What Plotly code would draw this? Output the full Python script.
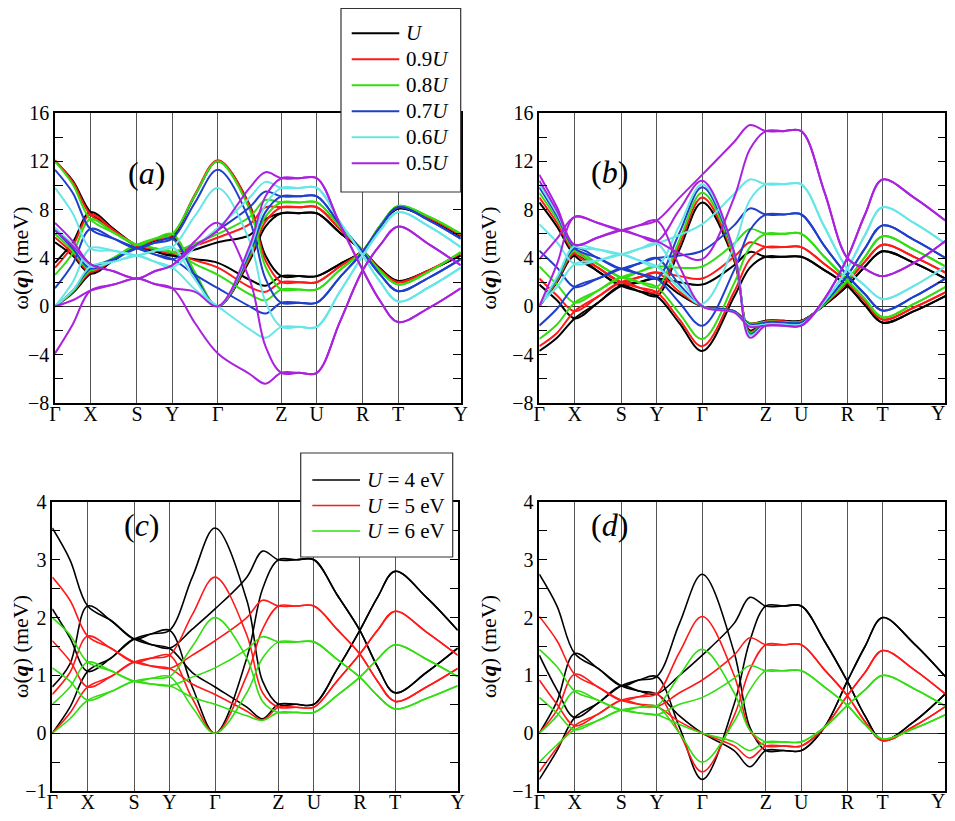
import plotly.graph_objects as go

# the page body adds an 8 px margin on every side; keep the figure inside the window
PAGE_PAD = 8
W, H = 955 - 2 * PAGE_PAD, 821 - 2 * PAGE_PAD
RIGHT_SHIFT = 3   # right-hand panels pulled left so their border stays in the window
BOTTOM_SHIFT = 7  # lower panels lifted so their tick labels stay in the window

# path coordinate: high-symmetry points plus interior sample points
K = [0, 17.7, 35.4, 58.7, 82, 99.7, 117.4, 140.2, 163, 194.8, 210.6,
     226.5, 244.2, 262, 285, 308, 325.7, 343.3, 374.7, 406]
HS_K = [0, 35.4, 82, 117.4, 163, 226.5, 262, 308, 343.3, 406]
HS_LABELS = ["Γ", "X", "S", "Y", "Γ", "Z", "U", "R", "T", "Y"]

# ---- panel (a) ----
A_U = [
    [12.0, 10.4, 7.8, 6.4, 5.0, 5.45, 5.8, 9.2, 12.0, 8.4, 4.2, 2.5, 2.5, 2.5, 3.5, 4.6, 6.6, 8.1, 7.2, 5.8],
    [5.3, 4.2, 2.7, 3.8, 5.0, 4.55, 4.2, 4.7, 5.3, 5.9, 7.2, 7.7, 7.7, 7.7, 6.1, 4.6, 3.1, 2.1, 3.0, 4.2],
    [3.6, 5.3, 7.8, 6.4, 5.0, 4.55, 4.2, 3.9, 3.6, 2.2, 1.7, 2.5, 2.5, 2.5, 3.5, 4.6, 6.6, 8.1, 7.2, 5.8],
    [0.0, 1.1, 2.7, 3.8, 5.0, 5.45, 5.8, 2.6, 0.0, 3.8, 6.6, 7.7, 7.7, 7.7, 6.1, 4.6, 3.1, 2.1, 3.0, 4.2],
]
A_09U = [
    [12.1, 10.3, 7.6, 6.3, 5.05, 5.5, 5.9, 9.3, 12.1, 8.3, 3.8, 2.0, 2.0, 2.0, 3.3, 4.6, 6.7, 8.2, 7.3, 5.9],
    [5.7, 4.4, 2.85, 3.9, 5.05, 4.7, 4.4, 5.0, 5.7, 6.8, 8.2, 8.2, 8.2, 8.2, 6.4, 4.6, 3.0, 2.0, 3.0, 4.4],
    [3.2, 5.0, 7.6, 6.3, 5.05, 4.7, 4.4, 3.8, 3.2, 1.6, 1.2, 2.0, 2.0, 2.0, 3.3, 4.6, 6.7, 8.2, 7.3, 5.9],
    [0.0, 1.2, 2.85, 3.9, 5.05, 5.5, 5.9, 2.7, 0.0, 4.0, 7.0, 8.2, 8.2, 8.2, 6.4, 4.6, 3.0, 2.0, 3.0, 4.4],
]
A_08U = [
    [12.0, 10.1, 7.2, 6.1, 5.1, 5.6, 6.0, 9.2, 12.0, 8.0, 3.3, 1.4, 1.4, 1.4, 3.0, 4.6, 6.7, 8.3, 7.4, 6.0],
    [6.0, 4.6, 3.0, 4.0, 5.1, 4.8, 4.5, 5.2, 6.0, 7.4, 8.8, 8.6, 8.6, 8.6, 6.6, 4.6, 2.9, 1.8, 2.9, 4.5],
    [2.6, 4.4, 7.2, 6.1, 5.1, 4.8, 4.5, 3.5, 2.6, 1.0, 0.5, 1.4, 1.4, 1.4, 3.0, 4.6, 6.7, 8.3, 7.4, 6.0],
    [0.0, 1.2, 3.0, 4.0, 5.1, 5.6, 6.0, 2.8, 0.0, 4.2, 7.4, 8.6, 8.6, 8.6, 6.6, 4.6, 2.9, 1.8, 2.9, 4.5],
]
A_07U = [
    [11.3, 9.4, 6.4, 5.6, 4.8, 5.25, 5.6, 8.6, 11.3, 7.1, 2.3, 0.3, 0.3, 0.3, 2.4, 4.5, 6.6, 8.2, 7.1, 5.6],
    [6.3, 4.8, 3.15, 3.9, 4.8, 4.3, 3.9, 5.0, 6.3, 8.2, 9.5, 9.1, 9.1, 9.1, 6.8, 4.5, 2.6, 1.25, 2.4, 3.9],
    [1.5, 3.5, 6.4, 5.6, 4.8, 4.3, 3.9, 2.6, 1.5, 0.0, -0.6, 0.3, 0.3, 0.3, 2.4, 4.5, 6.6, 8.2, 7.1, 5.6],
    [0.0, 1.3, 3.15, 3.9, 4.8, 5.25, 5.6, 2.5, 0.0, 4.4, 7.8, 9.1, 9.1, 9.1, 6.8, 4.5, 2.6, 1.25, 2.4, 3.9],
]
A_06U = [
    [9.8, 7.7, 4.8, 4.6, 4.2, 4.6, 4.9, 7.5, 9.8, 5.4, 0.4, -1.7, -1.7, -1.7, 1.2, 4.2, 6.3, 7.8, 6.6, 4.9],
    [6.5, 5.1, 3.3, 3.7, 4.2, 3.7, 3.2, 4.9, 6.5, 9.0, 10.3, 9.8, 9.8, 9.8, 7.0, 4.2, 2.0, 0.4, 1.6, 3.2],
    [0.0, 2.0, 4.8, 4.6, 4.2, 3.7, 3.2, 1.4, 0.0, -1.9, -2.6, -1.7, -1.7, -1.7, 1.2, 4.2, 6.3, 7.8, 6.6, 4.9],
    [0.0, 1.3, 3.3, 3.7, 4.2, 4.6, 4.9, 2.2, 0.0, 4.7, 8.4, 9.8, 9.8, 9.8, 7.0, 4.2, 2.0, 0.4, 1.6, 3.2],
]
A_05U = [
    [6.9, 5.4, 3.5, 2.9, 2.3, 2.9, 3.4, 5.4, 6.9, 2.2, -3.3, -5.5, -5.5, -5.5, -1.3, 3.0, 5.1, 6.6, 5.1, 3.4],
    [6.3, 5.0, 3.5, 2.9, 2.3, 2.9, 3.4, 5.0, 6.3, 9.8, 11.1, 10.6, 10.6, 10.6, 6.8, 3.0, 0.4, -1.3, -0.1, 1.5],
    [-3.9, -1.5, 1.3, 1.8, 2.3, 1.85, 1.5, -1.4, -3.9, -5.6, -6.4, -5.5, -5.5, -5.5, -1.3, 3.0, 5.1, 6.6, 5.1, 3.4],
    [0.0, 0.5, 1.3, 1.8, 2.3, 1.85, 1.5, 1.2, 0.0, 5.0, 9.1, 10.6, 10.6, 10.6, 6.8, 3.0, 0.4, -1.3, -0.1, 1.5],
]

# ---- panel (b) ----
B_U = [
    [8.6, 6.6, 4.2, 2.9, 1.7, 1.25, 0.85, 4.7, 8.6, 3.8, -2.0, -1.2, -1.2, -1.2, 0.1, 1.7, 3.3, 4.55, 3.6, 2.3],
    [1.8, 0.5, -1.0, 0.3, 1.7, 2.0, 2.3, 2.0, 1.8, 3.4, 4.5, 4.1, 4.1, 4.1, 3.0, 1.7, 0.1, -1.35, -0.4, 0.85],
    [0.0, 2.0, 4.2, 2.9, 1.7, 2.0, 2.3, 1.0, 0.0, -0.4, -1.4, -1.2, -1.2, -1.2, 0.1, 1.7, 3.3, 4.55, 3.6, 2.3],
    [-3.7, -2.6, -1.0, 0.3, 1.7, 1.25, 0.85, -1.4, -3.7, 0.8, 3.2, 4.1, 4.1, 4.1, 3.0, 1.7, 0.1, -1.35, -0.4, 0.85],
]
B_09U = [
    [9.0, 6.9, 4.4, 3.2, 2.0, 1.55, 1.15, 5.1, 9.0, 4.0, -2.1, -1.25, -1.25, -1.25, 0.15, 2.0, 3.7, 5.1, 4.1, 2.8],
    [2.3, 0.9, -0.4, 0.8, 2.0, 2.4, 2.8, 2.5, 2.3, 4.1, 5.3, 4.9, 4.9, 4.9, 3.5, 2.0, 0.4, -1.1, -0.1, 1.15],
    [0.0, 2.1, 4.4, 3.2, 2.0, 2.4, 2.8, 1.2, 0.0, -0.4, -1.4, -1.25, -1.25, -1.25, 0.15, 2.0, 3.7, 5.1, 4.1, 2.8],
    [-3.3, -2.2, -0.4, 0.8, 2.0, 1.55, 1.15, -1.1, -3.3, 1.2, 3.9, 4.9, 4.9, 4.9, 3.5, 2.0, 0.4, -1.1, -0.1, 1.15],
]
B_08U = [
    [9.4, 7.2, 4.6, 3.5, 2.4, 2.0, 1.6, 5.5, 9.4, 4.2, -2.2, -1.3, -1.3, -1.3, 0.2, 2.15, 4.1, 5.8, 4.7, 3.3],
    [3.3, 1.8, 0.3, 1.3, 2.4, 2.85, 3.3, 3.2, 3.3, 5.2, 6.4, 6.0, 6.0, 6.0, 4.1, 2.15, 0.6, -0.9, 0.2, 1.6],
    [0.0, 2.2, 4.6, 3.5, 2.4, 2.85, 3.3, 1.5, 0.0, -0.4, -1.4, -1.3, -1.3, -1.3, 0.2, 2.15, 4.1, 5.8, 4.7, 3.3],
    [-2.7, -1.5, 0.3, 1.3, 2.4, 2.0, 1.6, -0.6, -2.7, 1.9, 4.9, 6.0, 6.0, 6.0, 4.1, 2.15, 0.6, -0.9, 0.2, 1.6],
]
B_07U = [
    [9.85, 7.5, 4.8, 4.0, 3.1, 2.7, 2.3, 6.1, 9.85, 4.4, -2.3, -1.35, -1.35, -1.35, 0.3, 2.55, 4.8, 6.7, 5.5, 4.0],
    [4.6, 3.2, 1.6, 2.3, 3.1, 3.55, 4.0, 4.2, 4.6, 6.7, 8.1, 7.6, 7.6, 7.6, 5.0, 2.55, 1.0, -0.35, 0.8, 2.3],
    [0.0, 2.3, 4.8, 4.0, 3.1, 3.55, 4.0, 1.8, 0.0, -0.4, -1.5, -1.35, -1.35, -1.35, 0.3, 2.55, 4.8, 6.7, 5.5, 4.0],
    [-1.6, -0.2, 1.6, 2.3, 3.1, 2.7, 2.3, 0.3, -1.6, 3.0, 6.3, 7.6, 7.6, 7.6, 5.0, 2.55, 1.0, -0.35, 0.8, 2.3],
]
B_06U = [
    [10.1, 7.7, 5.0, 4.7, 4.3, 3.8, 3.3, 6.7, 10.1, 4.5, -2.4, -1.5, -1.5, -1.5, 0.4, 3.1, 5.9, 8.2, 6.9, 5.2],
    [6.8, 5.3, 3.5, 3.8, 4.3, 4.75, 5.2, 5.9, 6.8, 9.3, 10.5, 10.1, 10.1, 10.1, 6.6, 3.1, 1.7, 0.6, 1.7, 3.3],
    [0.0, 2.4, 5.0, 4.7, 4.3, 4.75, 5.2, 2.4, 0.0, -0.5, -1.6, -1.5, -1.5, -1.5, 0.4, 3.1, 5.9, 8.2, 6.9, 5.2],
    [0.2, 1.6, 3.5, 3.8, 4.3, 3.8, 3.3, 1.5, 0.2, 5.0, 8.8, 10.1, 10.1, 10.1, 6.6, 3.1, 1.7, 0.6, 1.7, 3.3],
]
B_05U = [
    [10.9, 8.2, 5.1, 5.7, 6.3, 6.7, 7.1, 9.0, 10.9, 13.6, 15.0, 14.5, 14.5, 14.5, 9.5, 4.0, 3.1, 2.5, 3.6, 5.4],
    [10.4, 7.9, 5.1, 5.7, 6.3, 5.85, 5.4, 8.0, 10.4, 4.5, -2.6, -1.6, -1.6, -1.6, 0.6, 4.0, 7.6, 10.5, 9.0, 7.1],
    [0.0, 3.5, 7.4, 6.9, 6.3, 6.7, 7.1, 3.3, 0.0, -0.5, -1.7, -1.6, -1.6, -1.6, 0.6, 4.0, 7.6, 10.5, 9.0, 7.1],
    [3.9, 5.6, 7.4, 6.9, 6.3, 5.85, 5.4, 4.4, 3.9, 9.0, 13.0, 14.5, 14.5, 14.5, 9.5, 4.0, 3.1, 2.5, 3.6, 5.4],
]

# ---- panel (c) ----
C_4EV = [
    [3.55, 3.0, 2.2, 1.95, 1.63, 1.72, 1.78, 2.7, 3.55, 2.3, 0.9, 0.5, 0.5, 0.5, 1.1, 1.78, 2.35, 2.8, 2.35, 1.78],
    [2.15, 1.65, 1.07, 1.3, 1.63, 1.53, 1.47, 1.8, 2.15, 2.7, 3.15, 3.0, 3.0, 3.0, 2.4, 1.78, 1.15, 0.7, 1.05, 1.47],
    [0.8, 1.2, 2.2, 1.95, 1.63, 1.53, 1.47, 1.05, 0.8, 0.45, 0.25, 0.5, 0.5, 0.5, 1.1, 1.78, 2.35, 2.8, 2.35, 1.78],
    [0.0, 0.45, 1.07, 1.3, 1.63, 1.72, 1.78, 0.8, 0.0, 1.3, 2.5, 3.0, 3.0, 3.0, 2.4, 1.78, 1.15, 0.7, 1.05, 1.47],
]
C_5EV = [
    [2.7, 2.3, 1.68, 1.47, 1.23, 1.3, 1.35, 2.05, 2.7, 1.7, 0.7, 0.45, 0.45, 0.45, 0.9, 1.37, 1.78, 2.11, 1.75, 1.35],
    [1.6, 1.25, 0.8, 0.98, 1.23, 1.16, 1.12, 1.35, 1.6, 2.0, 2.3, 2.2, 2.2, 2.2, 1.8, 1.37, 0.9, 0.55, 0.8, 1.12],
    [0.67, 1.05, 1.68, 1.47, 1.23, 1.16, 1.12, 0.85, 0.67, 0.38, 0.23, 0.45, 0.45, 0.45, 0.9, 1.37, 1.78, 2.11, 1.75, 1.35],
    [0.0, 0.35, 0.8, 0.98, 1.23, 1.3, 1.35, 0.6, 0.0, 1.0, 1.8, 2.2, 2.2, 2.2, 1.8, 1.37, 0.9, 0.55, 0.8, 1.12],
]
C_6EV = [
    [2.0, 1.7, 1.23, 1.08, 0.9, 0.95, 0.98, 1.5, 2.0, 1.3, 0.55, 0.36, 0.36, 0.36, 0.65, 0.97, 1.28, 1.53, 1.28, 0.98],
    [1.13, 0.9, 0.57, 0.72, 0.9, 0.85, 0.82, 0.97, 1.13, 1.45, 1.67, 1.58, 1.58, 1.58, 1.28, 0.97, 0.65, 0.42, 0.6, 0.82],
    [0.5, 0.8, 1.23, 1.08, 0.9, 0.85, 0.82, 0.62, 0.5, 0.3, 0.22, 0.36, 0.36, 0.36, 0.65, 0.97, 1.28, 1.53, 1.28, 0.98],
    [0.0, 0.25, 0.57, 0.72, 0.9, 0.95, 0.98, 0.45, 0.0, 0.7, 1.3, 1.58, 1.58, 1.58, 1.28, 0.97, 0.65, 0.42, 0.6, 0.82],
]

# ---- panel (d) ----
D_4EV = [
    [2.75, 2.2, 1.38, 1.12, 0.82, 0.92, 0.98, 1.9, 2.75, 1.4, 0.1, -0.3, -0.3, -0.3, 0.1, 0.9, 1.5, 2.0, 1.55, 0.98],
    [1.35, 0.75, 0.27, 0.52, 0.82, 0.73, 0.68, 1.0, 1.35, 1.9, 2.35, 2.2, 2.2, 2.2, 1.6, 0.9, 0.3, -0.12, 0.2, 0.68],
    [0.0, 0.55, 1.38, 1.12, 0.82, 0.73, 0.68, 0.3, 0.0, -0.3, -0.58, -0.3, -0.3, -0.3, 0.1, 0.9, 1.5, 2.0, 1.55, 0.98],
    [-0.8, -0.3, 0.27, 0.52, 0.82, 0.92, 0.98, 0.1, -0.8, 0.5, 1.6, 2.2, 2.2, 2.2, 1.6, 0.9, 0.3, -0.12, 0.2, 0.68],
]
D_5EV = [
    [2.02, 1.6, 1.02, 0.8, 0.57, 0.63, 0.68, 1.4, 2.02, 1.0, 0.05, -0.22, -0.22, -0.22, 0.1, 0.65, 1.05, 1.43, 1.1, 0.68],
    [0.92, 0.5, 0.13, 0.33, 0.57, 0.5, 0.46, 0.7, 0.92, 1.35, 1.65, 1.53, 1.53, 1.53, 1.1, 0.65, 0.2, -0.13, 0.12, 0.46],
    [0.0, 0.4, 1.02, 0.8, 0.57, 0.5, 0.46, 0.2, 0.0, -0.22, -0.43, -0.22, -0.22, -0.22, 0.1, 0.65, 1.05, 1.43, 1.1, 0.68],
    [-0.67, -0.25, 0.13, 0.33, 0.57, 0.63, 0.68, 0.0, -0.67, 0.3, 1.1, 1.53, 1.53, 1.53, 1.1, 0.65, 0.2, -0.13, 0.12, 0.46],
]
D_6EV = [
    [1.45, 1.15, 0.73, 0.57, 0.4, 0.45, 0.47, 1.0, 1.45, 0.7, 0.05, -0.15, -0.15, -0.15, 0.1, 0.48, 0.75, 1.0, 0.77, 0.47],
    [0.62, 0.35, 0.06, 0.22, 0.4, 0.35, 0.32, 0.5, 0.62, 0.95, 1.17, 1.08, 1.08, 1.08, 0.8, 0.48, 0.15, -0.1, 0.08, 0.32],
    [0.0, 0.3, 0.73, 0.57, 0.4, 0.35, 0.32, 0.15, 0.0, -0.15, -0.3, -0.15, -0.15, -0.15, 0.1, 0.48, 0.75, 1.0, 0.77, 0.47],
    [-0.5, -0.2, 0.06, 0.22, 0.4, 0.45, 0.47, 0.0, -0.5, 0.2, 0.75, 1.08, 1.08, 1.08, 0.8, 0.48, 0.15, -0.1, 0.08, 0.32],
]

COLORS_TOP = ["#000000", "#ff1a1a", "#33dd11", "#1f3fcc", "#66e6e6", "#aa22dd"]
LABELS_TOP = ["<i>U</i>", "0.9<i>U</i>", "0.8<i>U</i>", "0.7<i>U</i>", "0.6<i>U</i>", "0.5<i>U</i>"]
COLORS_BOT = ["#000000", "#ff1a1a", "#33dd11"]
LABELS_BOT = ["<i>U</i> = 4 eV", "<i>U</i> = 5 eV", "<i>U</i> = 6 eV"]

PANELS = [
    ("x", "y", [A_U, A_09U, A_08U, A_07U, A_06U, A_05U], COLORS_TOP, 2.0),
    ("x2", "y2", [B_U, B_09U, B_08U, B_07U, B_06U, B_05U], COLORS_TOP, 2.0),
    ("x3", "y3", [C_4EV, C_5EV, C_6EV], COLORS_BOT, 1.6),
    ("x4", "y4", [D_4EV, D_5EV, D_6EV], COLORS_BOT, 1.6),
]

SERIF = "Liberation Serif"


def px_x(v):
    """Window pixel column -> paper fraction."""
    return (v - PAGE_PAD) / W


def px_y(v):
    """Window pixel row -> paper fraction."""
    return 1 - (v - PAGE_PAD) / H


fig = go.Figure()
for xa, ya, sets, colors, width in PANELS:
    for bands, color in zip(sets, colors):
        for band in bands:
            fig.add_trace(go.Scatter(
                x=K, y=band, mode="lines", xaxis=xa, yaxis=ya,
                line=dict(color=color, width=width, shape="spline", smoothing=1.0),
                showlegend=False, hoverinfo="skip",
            ))

x_common = dict(
    range=[0, 406], tickmode="array", tickvals=HS_K, ticktext=HS_LABELS,
    showgrid=True, gridcolor="#555555", gridwidth=1, zeroline=False,
    showline=True, linecolor="black", linewidth=1.5, mirror=True, ticks="",
    ticklabelstandoff=-8, automargin=False,
    tickfont=dict(family=SERIF, size=20, color="black"), fixedrange=True,
)
# the right-hand panels reach the window edge: their last label is placed separately
x_right = dict(x_common, ticktext=HS_LABELS[:-1] + [""])
y_title = dict(text="ω(<b><i>q</i></b>) (meV)", font=dict(family=SERIF, size=22, color="black"),
               standoff=10)


def y_axis(rng, dtick, minor, domain, anchor):
    return dict(
        range=rng, domain=domain, anchor=anchor, tickmode="linear", tick0=rng[0], dtick=dtick,
        ticks="inside", ticklen=8, tickcolor="black", tickwidth=1,
        minor=dict(dtick=minor, tick0=rng[0], ticks="inside", ticklen=8, tickcolor="black", showgrid=False),
        showgrid=False, zeroline=True, zerolinecolor="#333333", zerolinewidth=1,
        showline=True, linecolor="black", linewidth=1.5, mirror="allticks", automargin=False,
        tickfont=dict(family=SERIF, size=20, color="black"), title=y_title, fixedrange=True,
    )


TOP_T, TOP_B = 113, 403
BOT_T, BOT_B = 509 - BOTTOM_SHIFT, 798 - BOTTOM_SHIFT
top_y = [px_y(TOP_B), px_y(TOP_T)]
bot_y = [px_y(BOT_B), px_y(BOT_T)]
right_x = [px_x(542.3 - RIGHT_SHIFT), px_x(948.3 - RIGHT_SHIFT)]
fig.update_layout(
    template="none",
    width=W, height=H, margin=dict(l=0, r=0, t=0, b=0, autoexpand=False),
    paper_bgcolor="white", plot_bgcolor="white", showlegend=False,
    font=dict(family=SERIF, color="black"),
    xaxis=dict(x_common, domain=[px_x(55), px_x(460.7)], anchor="y"),
    xaxis2=dict(x_right, domain=right_x, anchor="y2"),
    xaxis3=dict(x_common, domain=[px_x(52.3), px_x(457.7)], anchor="y3"),
    xaxis4=dict(x_right, domain=right_x, anchor="y4"),
    yaxis=y_axis([-8, 16], 4, 2, top_y, "x"),
    yaxis2=y_axis([-8, 16], 4, 2, top_y, "x2"),
    yaxis3=y_axis([-1, 4], 1, 0.5, bot_y, "x3"),
    yaxis4=y_axis([-1, 4], 1, 0.5, bot_y, "x4"),
)

# last path label of the right-hand panels, kept inside the window
for axis_bottom in (TOP_B, BOT_B):
    fig.add_annotation(x=1.0, y=px_y(axis_bottom + 9.5), xref="paper", yref="paper",
                       text=HS_LABELS[-1], showarrow=False, xanchor="right", yanchor="middle",
                       font=dict(family=SERIF, size=20, color="black"))

# panel tags
for tag, cx, cy in [("a", 126, 153), ("b", 612 - RIGHT_SHIFT, 152),
                    ("c", 122, 552 - BOTTOM_SHIFT), ("d", 612 - RIGHT_SHIFT, 552 - BOTTOM_SHIFT)]:
    fig.add_annotation(x=px_x(cx), y=px_y(cy), xref="paper", yref="paper",
                       text=f"(<i>{tag}</i>)", showarrow=False,
                       font=dict(family=SERIF, size=32, color="black"))

shapes = []
# legend of the upper panels
shapes.append(dict(type="rect", xref="paper", yref="paper", x0=px_x(341), x1=px_x(460.7),
                   y0=px_y(192), y1=px_y(8.5), line=dict(color="#333333", width=1.2),
                   fillcolor="white", layer="above"))
for i, (lab, col) in enumerate(zip(LABELS_TOP, COLORS_TOP)):
    yy = 33.3 + i * 26
    shapes.append(dict(type="line", xref="paper", yref="paper", x0=px_x(351.7), x1=px_x(399.3),
                       y0=px_y(yy), y1=px_y(yy), line=dict(color=col, width=2), layer="above"))
    fig.add_annotation(x=px_x(404), y=px_y(yy), xref="paper", yref="paper", text=lab,
                       showarrow=False, xanchor="left", yanchor="middle",
                       font=dict(family=SERIF, size=21, color="black"))

# legend of the lower-left panel
leg_top = 460 - BOTTOM_SHIFT
shapes.append(dict(type="rect", xref="paper", yref="paper", x0=px_x(300.7), x1=px_x(452.7),
                   y0=px_y(leg_top + 104), y1=px_y(leg_top), line=dict(color="#333333", width=1.2),
                   fillcolor="white", layer="above"))
for i, (lab, col) in enumerate(zip(LABELS_BOT, COLORS_BOT)):
    yy = leg_top + 27 + i * 25.5
    shapes.append(dict(type="line", xref="paper", yref="paper", x0=px_x(312.3), x1=px_x(360),
                       y0=px_y(yy), y1=px_y(yy), line=dict(color=col, width=1.6), layer="above"))
    fig.add_annotation(x=px_x(365), y=px_y(yy), xref="paper", yref="paper", text=lab,
                       showarrow=False, xanchor="left", yanchor="middle",
                       font=dict(family=SERIF, size=21, color="black"))

fig.update_layout(shapes=shapes)
fig.write_html("out.html")
